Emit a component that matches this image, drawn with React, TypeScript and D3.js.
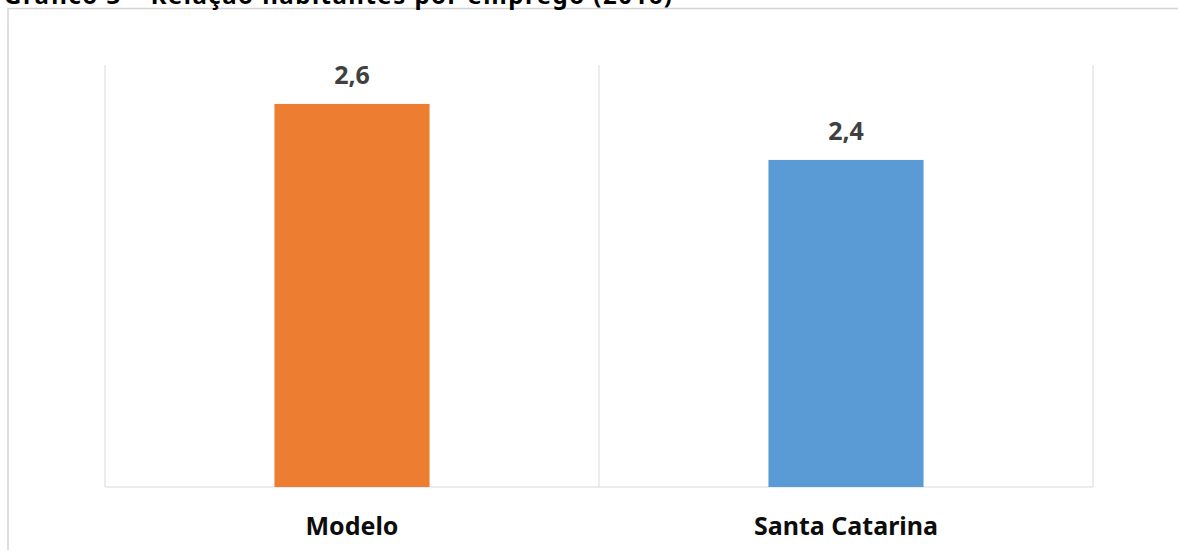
import * as d3 from "d3";

const title = "Gráfico 3 – Relação habitantes por emprego (2016)";
const categories = ["Modelo", "Santa Catarina"];
const values = [2.6, 2.4];
const barColors = ["#ED7D31", "#5B9BD5"];

const W = 1178;
const H = 550;
const margin = { top: 65, right: 85, bottom: 63, left: 105 };
const FONT = "'Noto Sans', 'Open Sans', sans-serif";

const ptBr = d3.formatLocale({ decimal: ",", thousands: ".", grouping: [3], currency: ["R$", ""] });
const fmt = ptBr.format(".1f");

export default function App() {
  const x = d3.scaleBand<string>().domain(categories).range([margin.left, W - margin.right]).padding(0);
  // hidden value axis does not start at zero
  const y = d3.scaleLinear().domain([1.232, 2.739]).range([H - margin.bottom, margin.top]);
  const barW = x.bandwidth() * 0.314;
  const base = H - margin.bottom;

  const gridX = [...categories.map((c) => x(c) as number), W - margin.right];

  return (
    <svg
      width={W}
      height={H}
      style={{ position: "fixed", left: 0, top: 0, background: "#fff" }}
      fontFamily={FONT}
    >
      {/* chart frame */}
      <rect x={8} y={8.5} width={W + 10} height={H + 10} fill="none" stroke="#d4d4d4" strokeWidth={1.5} />

      {/* title, cut off at the top as in the source */}
      <text x={4} y={4} fontSize={24} fontWeight="bold" fill="#000" textLength={668} lengthAdjust="spacing">
        {title}
      </text>

      {/* vertical gridlines between categories */}
      {gridX.map((gx, i) => (
        <line key={i} x1={gx} x2={gx} y1={margin.top} y2={base} stroke="#d9d9d9" strokeWidth={1} />
      ))}
      <line x1={margin.left} x2={W - margin.right} y1={base} y2={base} stroke="#d9d9d9" strokeWidth={1.2} />

      {categories.map((c, i) => {
        const cx = (x(c) as number) + x.bandwidth() / 2;
        const top = y(values[i]);
        return (
          <g key={c}>
            <rect x={cx - barW / 2} y={top} width={barW} height={base - top} fill={barColors[i]} />
            <text x={cx} y={top - 20} textAnchor="middle" fontSize={25} fontWeight="bold" fill="#404040">
              {fmt(values[i])}
            </text>
            <text x={cx} y={base + 48} textAnchor="middle" fontSize={25} fontWeight="bold" fill="#0d0d0d">
              {c}
            </text>
          </g>
        );
      })}
    </svg>
  );
}
